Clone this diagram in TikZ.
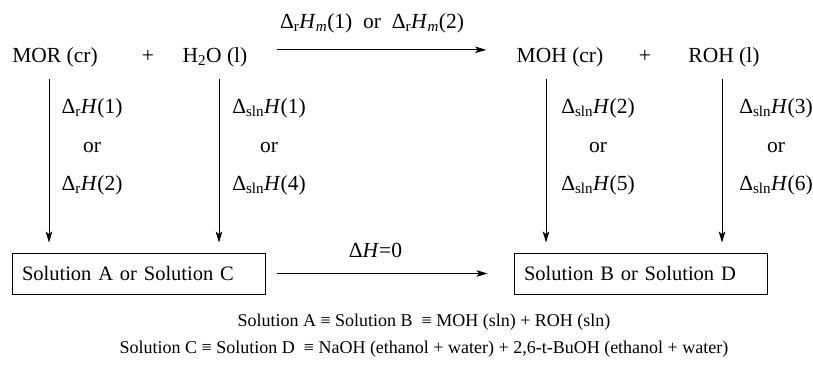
\documentclass[tikz,border=0pt]{standalone}
\usepackage{fontspec}
\setmainfont{Liberation Serif}
\usetikzlibrary{positioning,calc,arrows.meta}
\tikzset{chem/.style={anchor=base, font=\fontsize{21.5}{26}\selectfont}}
\tikzset{solbox/.style={draw, line width=0.9pt, font=\fontsize{20.5}{25}\selectfont, text width=233pt, inner xsep=10pt, minimum height=41pt}}
\tikzset{lbl/.style={align=center, font=\fontsize{21.5}{38.5}\selectfont}}
\tikzset{note/.style={align=center, font=\fontsize{18}{27}\selectfont}}
\tikzset{arr/.style={draw, line width=0.9pt, -{Stealth[length=11pt,width=6.5pt,inset=2.5pt]}}}
\newcommand\dHr[1]{Δ\textsubscript{r}\textit{H}(#1)}
\newcommand\dHs[1]{Δ\textsubscript{sln}\textit{H}(#1)}
\newcommand\dHm[1]{Δ\textsubscript{r}\textit{H}\textsubscript{\textit{m}}(#1)}
\begin{document}
\begin{tikzpicture}[x=1pt,y=-1pt]
	\useasboundingbox (0,0) rectangle (813,378);
	\node[chem] (MOR) at (55,62) {MOR (cr)};
	\node[chem] (p1) at (148,62) {+};
	\node[chem] (H2O) at (215,62) {H\textsubscript{2}O (l)};
	\node[chem] (MOH) at (560,62) {MOH (cr)};
	\node[chem] (p2) at (645,62) {+};
	\node[chem] (ROH) at (724,62) {ROH (l)};
	\node[solbox] (solA) at (138.5,273.5) {Solution A or Solution C};
	\node[solbox] (solB) at (640.5,273.5) {Solution B or Solution D};
	\coordinate (c1) at (49,0);
	\coordinate (c2) at (219,0);
	\coordinate (c3) at (546,0);
	\coordinate (c4) at (722,0);
	\draw[arr, shorten <=26pt, shorten >=27pt] ([yshift=7pt]H2O.east) -- node[above=13pt, xshift=-10pt, font=\fontsize{21.5}{26}\selectfont]{\dHm{1}\enskip or\enskip \dHm{2}} ([yshift=7pt]MOH.west);
	\draw[arr, shorten <=12pt, shorten >=26pt] (solA) -- node[above=12pt, xshift=-14pt, font=\fontsize{21.5}{26}\selectfont]{Δ\textit{H}=0} (solB);
	\draw[arr, shorten <=9pt, shorten >=10pt] (MOR.south -| c1) -- (solA.north -| c1);
	\draw[arr, shorten <=9pt, shorten >=10pt] (H2O.south -| c2) -- (solA.north -| c2);
	\draw[arr, shorten <=9pt, shorten >=10pt] (MOH.south -| c3) -- (solB.north -| c3);
	\draw[arr, shorten <=9pt, shorten >=10pt] (ROH.south -| c4) -- (solB.north -| c4);
	\node[lbl] (L1) at (92,147) {\dHr{1}\\or\\\dHr{2}};
	\node[lbl] (L2) at (269,147) {\dHs{1}\\or\\\dHs{4}};
	\node[lbl] (L3) at (598,147) {\dHs{2}\\or\\\dHs{5}};
	\node[lbl] (L4) at (776,147) {\dHs{3}\\or\\\dHs{6}};
	\node[note] (defs) at (424,336) {Solution A ≡ Solution B \ ≡ MOH (sln) + ROH (sln)\\Solution C ≡ Solution D \ ≡ NaOH (ethanol + water) + 2,6-t-BuOH (ethanol + water)};
\end{tikzpicture}
\end{document}
